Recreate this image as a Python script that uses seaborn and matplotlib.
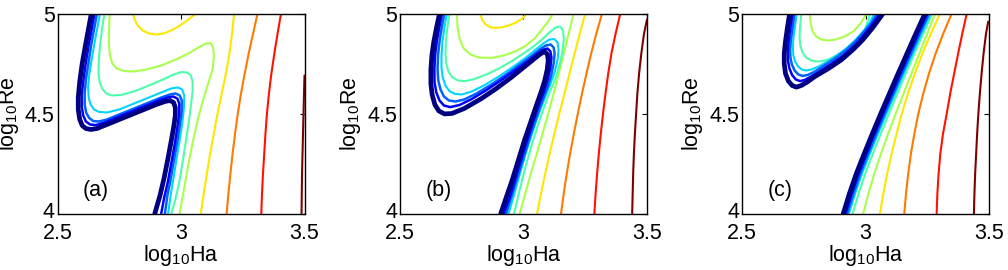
import matplotlib
matplotlib.use("Agg")
import matplotlib.pyplot as plt
import matplotlib.transforms as mtransforms
import seaborn as sns
import pandas as pd

sns.set_theme(style="white")
plt.rcParams["font.family"] = ["Liberation Sans", "DejaVu Sans"]
plt.rcParams["mathtext.default"] = "regular"

# ---------------- axes / text data ----------------
XLIM = (2.5, 3.5)
YLIM = (4.0, 5.0)
XTICKS = [2.5, 3.0, 3.5]
XTICKLABELS = ["2.5", "3", "3.5"]
YTICKS = [4.0, 4.5, 5.0]
YTICKLABELS = ["4", "4.5", "5"]
XLABEL = "log$_{10}$Ha"
YLABEL = "log$_{10}$Re"
PANEL_LABELS = ["(a)", "(b)", "(c)"]
N_LEVELS = 10  # contour levels 0..9, coloured with jet

# ---------------- panel (a) contour lines: (log10Ha, log10Re) ----------------
a_l0 = [(2.637,5.00),(2.625,4.92),(2.613,4.84),(2.600,4.75),(2.590,4.66),(2.584,4.58),(2.584,4.52),(2.590,4.47),(2.600,4.44),(2.615,4.425),(2.635,4.42),(2.660,4.425),(2.700,4.445),(2.750,4.47),(2.800,4.495),(2.850,4.52),(2.900,4.545),(2.935,4.56),(2.955,4.565),(2.970,4.555),(2.977,4.53),(2.977,4.49),(2.970,4.43),(2.960,4.36),(2.948,4.28),(2.932,4.18),(2.915,4.09),(2.894,4.00)]
a_l1 = [(2.650,5.00),(2.638,4.92),(2.626,4.84),(2.614,4.75),(2.604,4.66),(2.598,4.59),(2.598,4.535),(2.604,4.49),(2.615,4.46),(2.632,4.445),(2.655,4.442),(2.690,4.455),(2.740,4.48),(2.800,4.51),(2.860,4.54),(2.910,4.565),(2.945,4.58),(2.968,4.585),(2.985,4.575),(2.993,4.55),(2.993,4.50),(2.985,4.43),(2.975,4.35),(2.962,4.26),(2.947,4.16),(2.932,4.08),(2.920,4.00)]
a_l2 = [(2.660,5.00),(2.648,4.92),(2.636,4.84),(2.625,4.75),(2.615,4.67),(2.610,4.60),(2.610,4.545),(2.616,4.505),(2.628,4.478),(2.645,4.462),(2.668,4.46),(2.700,4.47),(2.750,4.495),(2.810,4.525),(2.870,4.555),(2.920,4.58),(2.955,4.595),(2.978,4.60),(2.995,4.59),(3.003,4.565),(3.003,4.51),(2.995,4.44),(2.985,4.36),(2.972,4.27),(2.958,4.17),(2.945,4.09),(2.935,4.00)]
a_l3 = [(2.672,5.00),(2.660,4.92),(2.648,4.84),(2.637,4.76),(2.628,4.69),(2.624,4.63),(2.626,4.58),(2.634,4.545),(2.648,4.52),(2.668,4.508),(2.700,4.505),(2.750,4.52),(2.810,4.55),(2.870,4.58),(2.920,4.605),(2.960,4.625),(2.988,4.63),(3.005,4.62),(3.013,4.59),(3.012,4.53),(3.005,4.45),(2.995,4.37),(2.983,4.28),(2.970,4.18),(2.958,4.09),(2.948,4.00)]
a_l4 = [(2.690,5.00),(2.680,4.92),(2.672,4.84),(2.667,4.76),(2.666,4.70),(2.671,4.655),(2.682,4.622),(2.698,4.60),(2.720,4.59),(2.760,4.593),(2.820,4.615),(2.880,4.645),(2.930,4.672),(2.970,4.695),(3.000,4.707),(3.025,4.705),(3.040,4.69),(3.047,4.66),(3.047,4.61),(3.042,4.56),(3.034,4.48),(3.022,4.38),(3.007,4.26),(2.992,4.15),(2.977,4.07),(2.961,4.00)]
a_l5 = [(2.711,5.00),(2.709,4.92),(2.708,4.85),(2.712,4.79),(2.722,4.75),(2.740,4.725),(2.770,4.712),(2.810,4.71),(2.860,4.72),(2.920,4.74),(2.980,4.77),(3.030,4.80),(3.070,4.83),(3.100,4.85),(3.120,4.852),(3.130,4.83),(3.133,4.79),(3.128,4.72),(3.110,4.65),(3.090,4.57),(3.070,4.48),(3.050,4.37),(3.030,4.25),(3.015,4.14),(3.003,4.06),(2.995,4.00)]
a_l6_u = [(2.805,5.00),(2.812,4.97),(2.825,4.94),(2.845,4.915),(2.870,4.90),(2.900,4.895),(2.930,4.90),(2.960,4.915),(2.990,4.935),(3.020,4.96),(3.045,4.985),(3.060,5.00)]
a_l6_r = [(3.080,4.0),(3.092,4.1),(3.105,4.2),(3.118,4.3),(3.133,4.4),(3.148,4.5),(3.165,4.6),(3.182,4.7),(3.196,4.8),(3.207,4.9),(3.215,5.0)]
a_l7 = [(3.185,4.0),(3.192,4.1),(3.200,4.2),(3.209,4.3),(3.219,4.4),(3.230,4.5),(3.243,4.6),(3.258,4.7),(3.274,4.8),(3.292,4.9),(3.310,5.0)]
a_l8 = [(3.325,4.0),(3.328,4.1),(3.332,4.2),(3.337,4.3),(3.342,4.4),(3.348,4.5),(3.356,4.6),(3.366,4.7),(3.378,4.8),(3.391,4.9),(3.405,5.0)]
a_l9 = [(3.488,4.0),(3.489,4.1),(3.490,4.2),(3.492,4.3),(3.494,4.4),(3.496,4.5),(3.498,4.6),(3.500,4.69)]

# ---------------- panel (b) ----------------
b_l0 = [(2.660,5.0),(2.648,4.93),(2.637,4.86),(2.629,4.79),(2.625,4.72),(2.625,4.65),(2.630,4.595),(2.641,4.545),(2.657,4.513),(2.680,4.498),(2.710,4.50),(2.760,4.525),(2.830,4.575),(2.890,4.625),(2.950,4.68),(3.000,4.73),(3.040,4.77),(3.065,4.795),(3.085,4.81),(3.097,4.795),(3.100,4.765),(3.096,4.72),(3.086,4.665),(3.072,4.61),(3.052,4.54),(3.030,4.46),(3.005,4.37),(2.980,4.27),(2.955,4.17),(2.930,4.08),(2.908,4.0)]
b_l1 = [(2.670,5.0),(2.659,4.93),(2.649,4.86),(2.642,4.79),(2.639,4.72),(2.640,4.655),(2.647,4.605),(2.660,4.565),(2.678,4.54),(2.703,4.532),(2.740,4.542),(2.790,4.572),(2.850,4.617),(2.910,4.667),(2.965,4.715),(3.015,4.76),(3.052,4.795),(3.077,4.818),(3.097,4.825),(3.109,4.81),(3.113,4.78),(3.109,4.73),(3.098,4.67),(3.083,4.61),(3.064,4.55),(3.042,4.47),(3.018,4.38),(2.993,4.28),(2.968,4.18),(2.944,4.08),(2.920,4.0)]
b_l2 = [(2.680,5.0),(2.669,4.93),(2.660,4.86),(2.654,4.79),(2.652,4.72),(2.655,4.665),(2.664,4.62),(2.678,4.585),(2.698,4.565),(2.725,4.56),(2.760,4.57),(2.810,4.60),(2.870,4.645),(2.930,4.695),(2.985,4.745),(3.030,4.785),(3.065,4.82),(3.090,4.84),(3.110,4.845),(3.122,4.83),(3.126,4.80),(3.122,4.75),(3.112,4.69),(3.097,4.63),(3.078,4.57),(3.055,4.49),(3.030,4.40),(3.005,4.30),(2.980,4.20),(2.955,4.10),(2.930,4.0)]
b_l3 = [(2.690,5.0),(2.680,4.93),(2.672,4.86),(2.668,4.79),(2.668,4.73),(2.673,4.68),(2.684,4.64),(2.700,4.612),(2.722,4.598),(2.750,4.595),(2.790,4.61),(2.840,4.64),(2.900,4.685),(2.960,4.735),(3.010,4.78),(3.050,4.82),(3.080,4.85),(3.105,4.87),(3.125,4.872),(3.138,4.855),(3.142,4.82),(3.138,4.77),(3.127,4.71),(3.110,4.65),(3.090,4.59),(3.065,4.51),(3.040,4.42),(3.014,4.32),(2.988,4.21),(2.963,4.10),(2.940,4.0)]
b_l4 = [(2.700,5.0),(2.692,4.93),(2.686,4.86),(2.684,4.80),(2.687,4.75),(2.696,4.71),(2.712,4.68),(2.735,4.665),(2.765,4.662),(2.800,4.672),(2.850,4.695),(2.900,4.725),(2.950,4.76),(3.000,4.80),(3.040,4.835),(3.075,4.87),(3.105,4.905),(3.130,4.93),(3.148,4.935),(3.160,4.915),(3.163,4.87),(3.157,4.80),(3.143,4.73),(3.125,4.66),(3.103,4.60),(3.080,4.52),(3.055,4.43),(3.030,4.33),(3.005,4.22),(2.983,4.11),(2.962,4.0)]
b_l5_u = [(2.730,5.0),(2.733,4.93),(2.742,4.87),(2.758,4.825),(2.785,4.795),(2.820,4.78),(2.870,4.778),(2.920,4.79),(2.970,4.812),(3.010,4.84),(3.045,4.875),(3.075,4.92),(3.100,4.96),(3.120,5.0)]
b_l5_r = [(2.985,4.0),(3.007,4.1),(3.030,4.2),(3.054,4.3),(3.077,4.4),(3.100,4.5),(3.122,4.6),(3.143,4.7),(3.163,4.8),(3.183,4.9),(3.203,5.0)]
b_l6_u = [(2.824,5.0),(2.832,4.97),(2.846,4.946),(2.865,4.932),(2.885,4.928),(2.910,4.93),(2.940,4.94),(2.970,4.955),(2.995,4.975),(3.014,5.0)]
b_l6_r = [(3.055,4.0),(3.071,4.1),(3.088,4.2),(3.106,4.3),(3.125,4.4),(3.145,4.5),(3.166,4.6),(3.186,4.7),(3.207,4.8),(3.228,4.9),(3.250,5.0)]
b_l7 = [(3.152,4.0),(3.163,4.1),(3.175,4.2),(3.189,4.3),(3.204,4.4),(3.220,4.5),(3.237,4.6),(3.255,4.7),(3.274,4.8),(3.295,4.9),(3.318,5.0)]
b_l8 = [(3.287,4.0),(3.292,4.1),(3.298,4.2),(3.305,4.3),(3.313,4.4),(3.322,4.5),(3.332,4.6),(3.343,4.7),(3.356,4.8),(3.373,4.9),(3.392,5.0)]
b_l9 = [(3.440,4.0),(3.442,4.1),(3.444,4.2),(3.447,4.3),(3.451,4.4),(3.456,4.5),(3.461,4.6),(3.468,4.7),(3.477,4.8),(3.488,4.9),(3.500,4.97)]

# ---------------- panel (c) ----------------
c_l0_loop = [(2.693,5.00),(2.684,4.93),(2.676,4.86),(2.671,4.80),(2.671,4.75),(2.676,4.70),(2.688,4.662),(2.703,4.640),(2.720,4.632),(2.740,4.640),(2.765,4.658),(2.794,4.684),(2.850,4.725),(2.902,4.768),(2.950,4.820),(2.990,4.870),(3.030,4.930),(3.071,5.00)]
c_l1_loop = [(2.705,5.00),(2.696,4.93),(2.689,4.865),(2.685,4.81),(2.686,4.765),(2.692,4.725),(2.703,4.692),(2.718,4.670),(2.735,4.662),(2.755,4.668),(2.780,4.685),(2.810,4.708),(2.860,4.747),(2.910,4.790),(2.955,4.840),(2.995,4.895),(3.030,4.950),(3.058,5.00)]
c_l2_loop = [(2.713,5.00),(2.705,4.93),(2.698,4.87),(2.695,4.82),(2.696,4.78),(2.702,4.745),(2.713,4.715),(2.728,4.695),(2.746,4.688),(2.767,4.693),(2.792,4.708),(2.820,4.730),(2.868,4.768),(2.915,4.810),(2.957,4.857),(2.995,4.910),(3.025,4.955),(3.047,5.00)]
c_l3_loop = [(2.722,5.00),(2.714,4.93),(2.708,4.875),(2.706,4.83),(2.708,4.79),(2.715,4.76),(2.727,4.735),(2.742,4.72),(2.760,4.715),(2.782,4.72),(2.810,4.735),(2.840,4.755),(2.880,4.787),(2.925,4.828),(2.965,4.875),(3.000,4.925),(3.020,4.96),(3.035,5.00)]
c_l4_loop = [(2.740,5.00),(2.735,4.93),(2.733,4.88),(2.736,4.84),(2.745,4.805),(2.760,4.78),(2.780,4.765),(2.805,4.76),(2.830,4.762),(2.860,4.775),(2.895,4.80),(2.935,4.835),(2.970,4.875),(2.998,4.92),(3.020,5.00)]
c_l5_loop = [(2.774,5.00),(2.778,4.95),(2.786,4.91),(2.800,4.885),(2.820,4.87),(2.848,4.865),(2.880,4.87),(2.915,4.885),(2.950,4.91),(2.980,4.95),(3.005,5.00)]
c_l0_band = [(2.910,4.0),(2.935,4.1),(2.963,4.2),(2.995,4.3),(3.028,4.4),(3.062,4.5),(3.097,4.6),(3.132,4.7),(3.168,4.8),(3.204,4.9),(3.241,5.0)]
c_l1_band = [(2.919,4.0),(2.944,4.1),(2.972,4.2),(3.004,4.3),(3.037,4.4),(3.071,4.5),(3.106,4.6),(3.141,4.7),(3.177,4.8),(3.213,4.9),(3.250,5.0)]
c_l2_band = [(2.926,4.0),(2.951,4.1),(2.979,4.2),(3.011,4.3),(3.044,4.4),(3.078,4.5),(3.113,4.6),(3.148,4.7),(3.184,4.8),(3.220,4.9),(3.257,5.0)]
c_l3_band = [(2.933,4.0),(2.958,4.1),(2.986,4.2),(3.018,4.3),(3.051,4.4),(3.085,4.5),(3.120,4.6),(3.155,4.7),(3.191,4.8),(3.227,4.9),(3.264,5.0)]
c_l4_band = [(2.948,4.0),(2.972,4.1),(2.999,4.2),(3.030,4.3),(3.062,4.4),(3.095,4.5),(3.129,4.6),(3.163,4.7),(3.198,4.8),(3.234,4.9),(3.270,5.0)]
c_l5_band = [(2.991,4.0),(3.012,4.1),(3.036,4.2),(3.063,4.3),(3.092,4.4),(3.122,4.5),(3.154,4.6),(3.186,4.7),(3.218,4.8),(3.250,4.9),(3.282,5.0)]
c_l6 = [(3.059,4.0),(3.072,4.1),(3.088,4.2),(3.106,4.3),(3.126,4.4),(3.147,4.5),(3.172,4.6),(3.200,4.7),(3.230,4.8),(3.265,4.9),(3.302,5.0)]
c_l7 = [(3.157,4.0),(3.164,4.1),(3.173,4.2),(3.184,4.3),(3.198,4.4),(3.214,4.5),(3.234,4.6),(3.257,4.7),(3.284,4.8),(3.315,4.9),(3.349,5.0)]
c_l8 = [(3.288,4.0),(3.291,4.1),(3.296,4.2),(3.303,4.3),(3.314,4.4),(3.329,4.5),(3.343,4.6),(3.359,4.7),(3.375,4.8),(3.392,4.9),(3.410,5.0)]
c_l9 = [(3.439,4.0),(3.441,4.1),(3.444,4.2),(3.448,4.3),(3.452,4.4),(3.457,4.5),(3.463,4.6),(3.470,4.7),(3.478,4.8),(3.488,4.9),(3.497,4.96)]

PANEL_A = [(0, a_l0), (1, a_l1), (2, a_l2), (3, a_l3), (4, a_l4), (5, a_l5),
           (6, a_l6_u), (6, a_l6_r), (7, a_l7), (8, a_l8), (9, a_l9)]
PANEL_B = [(0, b_l0), (1, b_l1), (2, b_l2), (3, b_l3), (4, b_l4), (5, b_l5_u), (5, b_l5_r),
           (6, b_l6_u), (6, b_l6_r), (7, b_l7), (8, b_l8), (9, b_l9)]
PANEL_C = [(0, c_l0_loop), (1, c_l1_loop), (2, c_l2_loop), (3, c_l3_loop), (4, c_l4_loop), (5, c_l5_loop),
           (0, c_l0_band), (1, c_l1_band), (2, c_l2_band), (3, c_l3_band), (4, c_l4_band), (5, c_l5_band),
           (6, c_l6), (7, c_l7), (8, c_l8), (9, c_l9)]
PANELS = [PANEL_A, PANEL_B, PANEL_C]

# ---------------- layout (figure pixels) ----------------
W, H = 1008, 270
AX_LEFT_PX = [57.5, 400.0, 742.0]
AX_W_PX = 247.0
AX_TOP_PX, AX_BOTTOM_PX = 13.5, 213.5
FS = 15.5

fig = plt.figure(figsize=(W / 100, H / 100), dpi=100)
fig.patch.set_facecolor("white")
jet = plt.get_cmap("jet")
nudge_up = mtransforms.ScaledTranslation(0, 3 / 100, fig.dpi_scale_trans)

for i, curves in enumerate(PANELS):
    ax = fig.add_axes([AX_LEFT_PX[i] / W, 1 - AX_BOTTOM_PX / H, AX_W_PX / W,
                       (AX_BOTTOM_PX - AX_TOP_PX) / H])
    ax.set_facecolor("white")
    for level, pts in curves:
        df = pd.DataFrame(pts, columns=["ha", "re"])
        lw = 3.4 if level == 0 else (1.8 if level <= 2 else 1.5)
        sns.lineplot(data=df, x="ha", y="re", sort=False, estimator=None,
                     color=jet(level / (N_LEVELS - 1)), linewidth=lw, ax=ax,
                     zorder=3 + (N_LEVELS - level))
    ax.set_xlim(*XLIM)
    ax.set_ylim(*YLIM)
    ax.set_xticks(XTICKS)
    ax.set_xticklabels(XTICKLABELS)
    ax.set_yticks(YTICKS)
    ax.set_yticklabels(YTICKLABELS)
    ax.tick_params(direction="in", length=3.5, width=0.8, top=True, right=True,
                   labelsize=FS, colors="black")
    ax.tick_params(axis="x", pad=7)
    ax.tick_params(axis="y", pad=2)
    # lift the bottom y label ("4") a little, as in the reference
    lab4 = ax.get_yticklabels()[0]
    lab4.set_transform(lab4.get_transform() + nudge_up)
    for s in ax.spines.values():
        s.set_color("black")
        s.set_linewidth(1.0)
        s.set_zorder(20)
    ax.set_xlabel(XLABEL, fontsize=FS, labelpad=-1, color="black")
    ax.set_ylabel(YLABEL, fontsize=FS, labelpad=3, color="black")
    ax.text(2.655, 4.115, PANEL_LABELS[i], fontsize=FS, ha="center", va="center",
            color="black")

fig.savefig("out.png", dpi=100, facecolor="white")
